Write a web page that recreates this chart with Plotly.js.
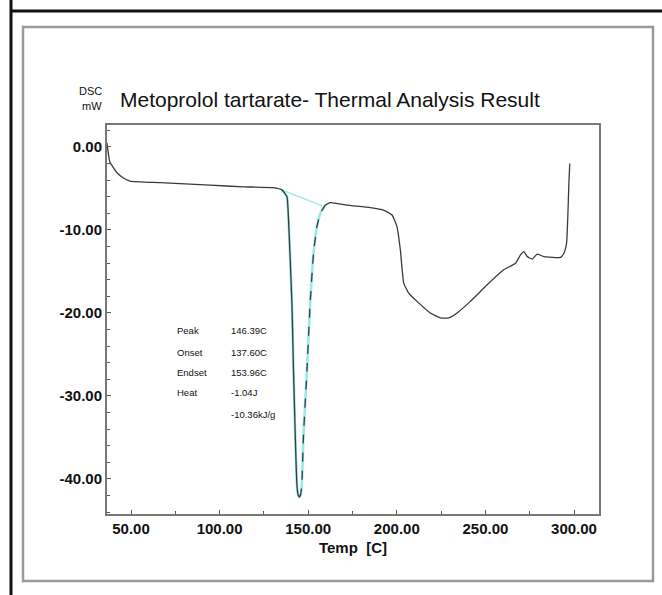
<!DOCTYPE html>
<html>
<head>
<meta charset="utf-8">
<script src="https://cdn.plot.ly/plotly-3.0.1.min.js"></script>
<style>
html,body{margin:0;padding:0;background:#fff;}
#chart{width:662px;height:595px;}
</style>
</head>
<body>
<div id="chart"></div>
<script>
// ---- data ----
const temp = [36.4, 38.1, 42.1, 45.5, 49.4, 66.4, 94.6, 113.3, 130.2, 135.3, 138.0, 138.9, 140.8, 141.7, 142.7, 143.6, 144.3, 145.0, 145.7, 146.4, 147.3, 149.3, 151.1, 153.0, 154.9, 156.8, 159.6, 162.4, 171.9, 185.0, 192.5, 197.3, 200.1, 202.0, 203.9, 206.7, 211.4, 218.9, 224.6, 229.3, 234.0, 241.5, 251.0, 260.3, 267.0, 269.8, 271.7, 273.6, 276.4, 279.2, 283.0, 292.4, 294.3, 295.8, 296.5, 297.1, 297.6];
const dsc = [0.5, -1.8, -3.1, -3.7, -4.1, -4.3, -4.6, -4.8, -4.9, -5.2, -6.0, -8.8, -18.8, -26.9, -34.9, -40.6, -41.9, -42.2, -41.9, -40.6, -34.9, -26.9, -18.8, -12.8, -9.6, -8.0, -7.0, -6.7, -7.0, -7.3, -7.6, -8.2, -9.6, -12.4, -16.4, -17.6, -18.6, -20.0, -20.6, -20.6, -20.0, -18.6, -16.6, -14.8, -14.0, -13.0, -12.6, -13.2, -13.5, -12.9, -13.2, -13.3, -12.8, -11.6, -8.4, -4.4, -2.0];
const baselineT = [135.3, 158.0];
const baselineV = [-5.2, -7.1];
const xTickVals = [50, 100, 150, 200, 250, 300];
const xTickText = ['50.00', '100.00', '150.00', '200.00', '250.00', '300.00'];
const yTickVals = [0, -10, -20, -30, -40];
const yTickText = ['0.00', '-10.00', '-20.00', '-30.00', '-40.00'];
const resultLabels = ['Peak', 'Onset', 'Endset', 'Heat', ''];
const resultValues = ['146.39C', '137.60C', '153.96C', '-1.04J', '-10.36kJ/g'];
const chartTitle = 'Metoprolol tartarate- Thermal Analysis Result';
const yUnitTop = 'DSC';
const yUnitBottom = 'mW';
const xTitle = 'Temp  [C]';

// ---- geometry ----
const W = 662, H = 595;
const M = {l: 107, r: 63, t: 125, b: 81};
const PW = W - M.l - M.r, PH = H - M.t - M.b;
const px = x => (x - M.l) / PW;          // pixel -> paper x
const py = y => (H - M.b - y) / PH;      // pixel -> paper y

const iStart = 9, iPeak = 17, iEnd = 26;
const dark = '#3a3a3a';
const cyan = '#9ae9e9';
const FONT = 'Liberation Sans, Arial, sans-serif';

const traces = [
  {x: temp.slice(iStart, iEnd + 1), y: dsc.slice(iStart, iEnd + 1), mode: 'lines',
   line: {color: cyan, width: 2.6, shape: 'spline', smoothing: 0.4}, hoverinfo: 'skip'},
  {x: baselineT, y: baselineV, mode: 'lines', line: {color: cyan, width: 1.3}, hoverinfo: 'skip'},
  {x: temp.slice(0, iPeak + 1), y: dsc.slice(0, iPeak + 1), mode: 'lines',
   line: {color: dark, width: 1.3, shape: 'spline', smoothing: 0.4}},
  {x: temp.slice(iPeak, iEnd + 1), y: dsc.slice(iPeak, iEnd + 1), mode: 'lines',
   line: {color: dark, width: 1.3, dash: 'dash', shape: 'spline', smoothing: 0.4}},
  {x: temp.slice(iEnd), y: dsc.slice(iEnd), mode: 'lines',
   line: {color: dark, width: 1.3, shape: 'spline', smoothing: 0.4}}
];

const annotations = [
  {text: chartTitle, x: px(118), y: py(100), xanchor: 'left', yanchor: 'middle',
   font: {family: FONT, size: 21, color: '#111'}},
  {text: yUnitTop, x: px(104), y: py(91), xanchor: 'right', yanchor: 'middle',
   font: {family: FONT, size: 11, color: '#111'}},
  {text: yUnitBottom, x: px(104), y: py(106), xanchor: 'right', yanchor: 'middle',
   font: {family: FONT, size: 11, color: '#111'}}
];
const rowY = [330, 352, 372, 393, 414];
resultLabels.forEach((t, i) => {
  if (t) annotations.push({text: t, x: px(175), y: py(rowY[i]), xanchor: 'left', yanchor: 'middle',
    font: {family: FONT, size: 9.5, color: '#111'}});
  annotations.push({text: resultValues[i], x: px(229), y: py(rowY[i]), xanchor: 'left', yanchor: 'middle',
    font: {family: FONT, size: 9.5, color: '#111'}});
});
annotations.forEach(a => { a.xref = 'paper'; a.yref = 'paper'; a.showarrow = false; });

const shapes = [
  {type: 'rect', xref: 'paper', yref: 'paper', x0: px(23), x1: px(653), y0: py(27), y1: py(581),
   line: {color: '#9a9a9a', width: 2.5}, layer: 'below'},
  {type: 'line', xref: 'paper', yref: 'paper', x0: px(11), x1: px(11), y0: py(-5), y1: py(600),
   line: {color: '#111', width: 3}},
  {type: 'line', xref: 'paper', yref: 'paper', x0: px(10), x1: px(665), y0: py(11), y1: py(11),
   line: {color: '#111', width: 3}}
];

const tickFont = {family: FONT, size: 15, color: '#111', weight: 'bold'};

const layout = {
  width: W, height: H,
  margin: M,
  paper_bgcolor: '#fff', plot_bgcolor: '#fff',
  showlegend: false,
  font: {family: FONT, color: '#111'},
  xaxis: {
    range: [36.45, 314.1], showgrid: false, zeroline: false,
    showline: true, linecolor: '#777', linewidth: 2, mirror: true,
    tickvals: xTickVals, ticktext: xTickText, ticks: 'inside', ticklen: 4, tickcolor: '#555',
    minor: {dtick: 25, tick0: 0, ticks: 'inside', ticklen: 3, tickcolor: '#555'},
    tickfont: tickFont,
    title: {text: xTitle, font: {family: FONT, size: 15, color: '#111', weight: 'bold'}, standoff: 6}
  },
  yaxis: {
    range: [-44.22, 2.65], showgrid: false, zeroline: false,
    showline: true, linecolor: '#777', linewidth: 2, mirror: true,
    tickvals: yTickVals, ticktext: yTickText, ticks: 'inside', ticklen: 4, tickcolor: '#555',
    minor: {dtick: 2, tick0: 0, ticks: 'inside', ticklen: 3, tickcolor: '#555'},
    tickfont: tickFont
  },
  annotations: annotations,
  shapes: shapes
};

Plotly.newPlot('chart', traces, layout, {displayModeBar: false, staticPlot: true});
</script>
</body>
</html>
